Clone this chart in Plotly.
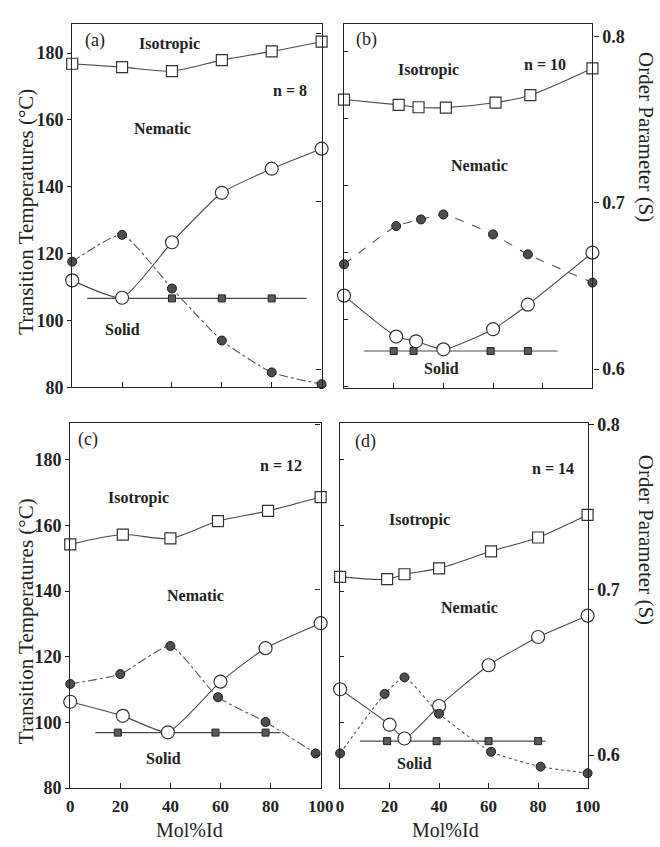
import plotly.graph_objects as go

W, H = 660, 847

# ---------------- data ----------------
X_TICKS = [0, 20, 40, 60, 80, 100]
T_TICKS = [80, 100, 120, 140, 160, 180]
S_TICKS = [0.6, 0.7, 0.8]

# Panel (a) n = 8
A_X_ISO = [0, 20, 40, 60, 80, 100]
A_ISO = [176.8, 175.8, 174.6, 177.9, 180.5, 183.4]
A_X_OPEN = [0, 20, 40, 60, 80, 100]
A_OPEN = [112.0, 106.8, 123.4, 138.2, 145.4, 151.4]
A_X_S = [0, 20, 40, 60, 80, 100]
A_S = [0.664, 0.680, 0.648, 0.617, 0.598, 0.591]
A_X_SOLID = [40, 60, 80]
A_SOLID = [106.6, 106.6, 106.6]
A_SOLID_SPAN = [6, 94]

# Panel (b) n = 10
B_X_ISO = [0, 22, 30, 41, 61, 75, 100]
B_ISO = [165.6, 164.0, 163.3, 163.2, 164.7, 166.9, 174.9]
B_X_OPEN = [0, 21, 29, 40, 60, 74, 100]
B_OPEN = [107.2, 95.0, 93.6, 91.2, 97.2, 104.5, 120.0]
B_X_S = [0, 21, 31, 40, 60, 74, 100]
B_S = [0.663, 0.686, 0.690, 0.693, 0.681, 0.669, 0.652]
B_X_SOLID = [20, 28, 59, 74]
B_SOLID = [90.7, 90.7, 90.7, 90.7]
B_SOLID_SPAN = [8, 86]

# Panel (c) n = 12
C_X_ISO = [0, 21, 40, 59, 79, 100]
C_ISO = [154.2, 157.2, 156.0, 161.3, 164.4, 168.6]
C_X_OPEN = [0, 21, 39, 60, 78, 100]
C_OPEN = [106.3, 102.0, 97.0, 112.4, 122.6, 130.2]
C_X_S = [0, 20, 40, 59, 78, 98]
C_S = [0.643, 0.649, 0.666, 0.635, 0.620, 0.601]
C_X_SOLID = [19, 58, 78]
C_SOLID = [96.9, 96.9, 96.9]
C_SOLID_SPAN = [10, 84]

# Panel (d) n = 14
D_X_ISO = [0, 19, 26, 40, 61, 80, 100]
D_ISO = [144.3, 143.6, 145.1, 146.9, 152.1, 156.3, 163.2]
D_X_OPEN = [0, 20, 26, 40, 60, 80, 100]
D_OPEN = [110.1, 99.3, 95.1, 105.0, 117.4, 126.0, 132.5]
D_X_S = [0, 18, 26, 40, 61, 81, 100]
D_S = [0.601, 0.637, 0.647, 0.625, 0.602, 0.593, 0.589]
D_X_SOLID = [19, 39, 60, 80]
D_SOLID = [94.3, 94.3, 94.3, 94.3]
D_SOLID_SPAN = [8, 83]

PANEL_LABELS = ["(a)", "(b)", "(c)", "(d)"]
N_LABELS = ["n = 8", "n = 10", "n = 12", "n = 14"]
REGION_LABELS = ["Isotropic", "Nematic", "Solid"]
Y_TITLE = "Transition Temperatures (°C)"
Y2_TITLE = "Order Parameter (S)"
X_TITLE = "Mol%Id"

panels = [
    dict(xi=A_X_ISO, iso=A_ISO, xo=A_X_OPEN, op=A_OPEN, xs=A_X_S, s=A_S,
         xsol=A_X_SOLID, sol=A_SOLID, span=A_SOLID_SPAN, sdash="dashdot"),
    dict(xi=B_X_ISO, iso=B_ISO, xo=B_X_OPEN, op=B_OPEN, xs=B_X_S, s=B_S,
         xsol=B_X_SOLID, sol=B_SOLID, span=B_SOLID_SPAN, sdash="dash"),
    dict(xi=C_X_ISO, iso=C_ISO, xo=C_X_OPEN, op=C_OPEN, xs=C_X_S, s=C_S,
         xsol=C_X_SOLID, sol=C_SOLID, span=C_SOLID_SPAN, sdash="dashdot"),
    dict(xi=D_X_ISO, iso=D_ISO, xo=D_X_OPEN, op=D_OPEN, xs=D_X_S, s=D_S,
         xsol=D_X_SOLID, sol=D_SOLID, span=D_SOLID_SPAN, sdash="dot"),
]

# ---------------- layout geometry (pixels) ----------------
geom = [
    dict(box=(70, 326, 15, 387), trange=[80, 188.8], srange=[0.5891, 0.8059]),
    dict(box=(349, 604, 15, 388), trange=[79.6, 188.2], srange=[0.5884, 0.8078]),
    dict(box=(68, 325, 423, 797), trange=[80, 191.3], srange=[0.580, 0.8012]),
    dict(box=(345, 599, 424, 797), trange=[80, 191.0], srange=[0.580, 0.8006]),
]

FONT = "Liberation Serif"
INK = "#222222"
LINE = "#4a4a4a"
TICKFONT = dict(family=FONT, size=18, color=INK, weight="bold")
XTICKFONT = dict(family=FONT, size=17, color=INK, weight="bold")

fig = go.Figure()
layout = dict(
    width=W, height=H, margin=dict(l=0, r=0, t=0, b=0),
    paper_bgcolor="white", plot_bgcolor="white", showlegend=False,
    font=dict(family=FONT, color=INK),
)

for i, (p, g) in enumerate(zip(panels, geom)):
    l, r, t, b = g["box"]
    xn = "x" if i == 0 else f"x{i+1}"
    yT = 2 * i + 1
    yS = 2 * i + 2
    yTn = "y" if yT == 1 else f"y{yT}"
    ySn = f"y{yS}"
    xkey = "xaxis" if i == 0 else f"xaxis{i+1}"
    yTkey = "yaxis" if yT == 1 else f"yaxis{yT}"
    ySkey = f"yaxis{yS}"
    bottom_row = i >= 2
    left_col = i % 2 == 0

    layout[xkey] = dict(
        domain=[l / W, r / W], anchor=yTn, range=[0, 100],
        tickvals=X_TICKS, ticks="inside", ticklen=5, tickwidth=1, tickcolor=INK,
        showticklabels=bottom_row, showline=True, mirror=True, linecolor=INK,
        linewidth=1.3, showgrid=False, zeroline=False,
        tickfont=XTICKFONT, ticklabelstandoff=2,
    )
    layout[yTkey] = dict(
        domain=[1 - b / H, 1 - t / H], anchor=xn, range=g["trange"],
        tickvals=T_TICKS, ticks="outside" if left_col else "inside", ticklen=4,
        tickwidth=1, tickcolor=INK, showticklabels=left_col,
        showline=True, linecolor=INK, linewidth=1.3, showgrid=False, zeroline=False,
        tickfont=TICKFONT,
    )
    layout[ySkey] = dict(
        overlaying=yTn, side="right", anchor=xn, range=g["srange"],
        tickvals=S_TICKS, ticktext=["0.6", "0.7", "0.8"],
        ticks="inside" if left_col else "outside", ticklen=5,
        tickwidth=1, tickcolor=INK, showticklabels=not left_col,
        showline=True, linecolor=INK, linewidth=1.3, showgrid=False, zeroline=False,
        tickfont=TICKFONT,
    )

    # solid line with filled squares
    fig.add_trace(go.Scatter(
        x=p["span"], y=[p["sol"][0], p["sol"][0]], mode="lines",
        line=dict(color=LINE, width=1.2), xaxis=xn, yaxis=yTn, hoverinfo="skip"))
    fig.add_trace(go.Scatter(
        x=p["xsol"], y=p["sol"], mode="markers", cliponaxis=False,
        marker=dict(symbol="square", size=7, color="#5a5a5a",
                    line=dict(color="#222", width=1)),
        xaxis=xn, yaxis=yTn))
    # order parameter (filled circles, broken line)
    fig.add_trace(go.Scatter(
        x=p["xs"], y=p["s"], mode="lines+markers", cliponaxis=False,
        line=dict(color="#555", width=1.1, dash=p["sdash"], shape="spline", smoothing=0.5),
        marker=dict(symbol="circle", size=9, color="#4d4d4d",
                    line=dict(color="#1a1a1a", width=1)),
        xaxis=xn, yaxis=ySn))
    # open circles
    fig.add_trace(go.Scatter(
        x=p["xo"], y=p["op"], mode="lines+markers", cliponaxis=False,
        line=dict(color=LINE, width=1.1, shape="spline", smoothing=0.5),
        marker=dict(symbol="circle", size=13, color="white",
                    line=dict(color="#333", width=1.2)),
        xaxis=xn, yaxis=yTn))
    # open squares (isotropic transition)
    fig.add_trace(go.Scatter(
        x=p["xi"], y=p["iso"], mode="lines+markers", cliponaxis=False,
        line=dict(color=LINE, width=1.1, shape="spline", smoothing=0.8),
        marker=dict(symbol="square", size=11, color="white",
                    line=dict(color="#333", width=1.2)),
        xaxis=xn, yaxis=yTn))

annotations = []


def ann(text, px, py, size=16, bold=False, angle=0, yanchor="middle"):
    annotations.append(dict(
        text=text, x=px / W, y=1 - py / H, xref="paper", yref="paper",
        showarrow=False, textangle=angle, xanchor="center", yanchor=yanchor,
        borderpad=0,
        font=dict(family=FONT, size=size, color=INK, weight="bold" if bold else "normal"),
    ))


# panel letters
for lab, (px, py) in zip(PANEL_LABELS, [(93, 32), (372, 31), (86, 440), (371, 442)]):
    ann(lab, px, py, size=18)
# n labels
for lab, (px, py) in zip(N_LABELS, [(294, 83), (555, 57), (284, 467), (564, 470)]):
    ann(lab, px, py, size=16, bold=True)
# region labels
region_pos = [
    [(170, 36), (163, 122), (122, 328)],
    [(436, 62), (488, 160), (449, 368)],
    [(138, 500), (197, 600), (164, 767)],
    [(426, 523), (478, 612), (421, 772)],
]
for pos in region_pos:
    for lab, (px, py) in zip(REGION_LABELS, pos):
        ann(lab, px, py, size=16, bold=True)

# axis titles
ann(Y_TITLE, 23, 207, size=21, angle=-90)
ann(Y_TITLE, 23, 626, size=21, angle=-90)
ann(Y2_TITLE, 659, 131, size=21, angle=90)
ann(Y2_TITLE, 659, 543, size=21, angle=90)
ann(X_TITLE, 190, 852, size=20, yanchor="bottom")
ann(X_TITLE, 453, 852, size=20, yanchor="bottom")

layout["annotations"] = annotations
fig.update_layout(**layout)
fig.write_html("out.html")
